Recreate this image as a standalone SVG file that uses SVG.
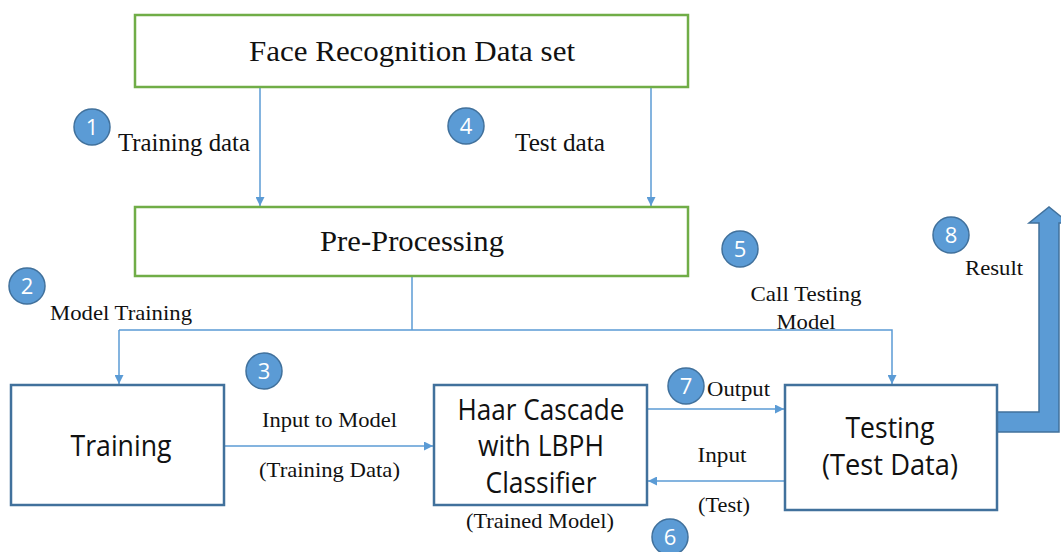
<svg xmlns="http://www.w3.org/2000/svg" width="1061" height="552" viewBox="0 0 1061 552">
  <defs>
    <marker id="arr" viewBox="0 0 10 10" refX="10" refY="5" markerWidth="9" markerHeight="9" markerUnits="userSpaceOnUse" orient="auto">
      <path d="M0,0 L10,5 L0,10 z" fill="#5b9bd5"/>
    </marker>
    <style>
      .green { fill: #fff; stroke: #70ad47; stroke-width: 2.5; }
      .blue { fill: #fff; stroke: #41719c; stroke-width: 2.5; }
      .conn { fill: none; stroke: #5b9bd5; stroke-width: 1.5; }
      .serif { font-family: "Liberation Serif", "Times New Roman", serif; fill: #111; }
      .sans { font-family: "Open Sans", "Liberation Sans", sans-serif; font-size: 29px; fill: #111; text-anchor: middle; }
      .lbl { font-size: 21px; }
      .badge circle { fill: #5b9bd5; stroke: #41719c; stroke-width: 1.5; }
      .badge text { font-family: "Open Sans", "Liberation Sans", sans-serif; font-size: 22px; fill: #fff; text-anchor: middle; }
    </style>
  </defs>

  <rect width="1061" height="552" fill="#fff"/>

  <!-- connectors -->
  <g id="connectors">
    <line class="conn" x1="260" y1="87" x2="260" y2="206" marker-end="url(#arr)"/>
    <line class="conn" x1="651" y1="87" x2="651" y2="206" marker-end="url(#arr)"/>
    <polyline class="conn" points="412,276 412,330"/>
    <polyline class="conn" points="119,330 892,330 892,384" marker-end="url(#arr)"/>
    <line class="conn" x1="119" y1="330" x2="119" y2="384" marker-end="url(#arr)"/>
    <line class="conn" x1="224" y1="446" x2="433" y2="446" marker-end="url(#arr)"/>
    <line class="conn" x1="647" y1="409" x2="784" y2="409" marker-end="url(#arr)"/>
    <line class="conn" x1="785" y1="481" x2="648" y2="481" marker-end="url(#arr)"/>
    <!-- result arrow -->
    <path d="M997,412 L1039,412 L1039,223 L1029,223 L1049,207 L1069,223 L1059,223 L1059,432 L997,432 z" fill="#5b9bd5" stroke="#41719c" stroke-width="1.5"/>
  </g>

  <g id="dataset">
    <rect class="green" x="135" y="15" width="553" height="72"/>
    <text class="serif" x="412" y="61" font-size="30" text-anchor="middle" textLength="326" lengthAdjust="spacingAndGlyphs">Face Recognition Data set</text>
  </g>

  <g id="preprocessing">
    <rect class="green" x="135" y="207" width="553" height="69"/>
    <text class="serif" x="412" y="251" font-size="30" text-anchor="middle" textLength="184" lengthAdjust="spacingAndGlyphs">Pre-Processing</text>
  </g>

  <g id="training">
    <rect class="blue" x="11" y="385" width="213" height="120"/>
    <text class="sans" x="121" y="456" textLength="101" lengthAdjust="spacingAndGlyphs">Training</text>
  </g>

  <g id="classifier">
    <rect class="blue" x="434" y="385" width="213" height="120"/>
    <text class="sans" x="541" y="420" textLength="167" lengthAdjust="spacingAndGlyphs">Haar Cascade</text>
    <text class="sans" x="541" y="456" textLength="126" lengthAdjust="spacingAndGlyphs">with LBPH</text>
    <text class="sans" x="541" y="493" textLength="111" lengthAdjust="spacingAndGlyphs">Classifier</text>
    <text class="serif lbl" x="540" y="528" text-anchor="middle" textLength="148" lengthAdjust="spacingAndGlyphs">(Trained Model)</text>
  </g>

  <g id="testing">
    <rect class="blue" x="785" y="385" width="212" height="125"/>
    <text class="sans" x="890" y="438" textLength="89" lengthAdjust="spacingAndGlyphs">Testing</text>
    <text class="sans" x="890" y="475" textLength="136" lengthAdjust="spacingAndGlyphs">(Test Data)</text>
  </g>

  <!-- labels -->
  <g id="labels" class="serif">
    <text x="118" y="151" font-size="25" textLength="132" lengthAdjust="spacingAndGlyphs">Training data</text>
    <text x="515" y="151" font-size="25" textLength="90" lengthAdjust="spacingAndGlyphs">Test data</text>
    <text class="lbl" x="50" y="320" textLength="142" lengthAdjust="spacingAndGlyphs">Model Training</text>
    <text class="lbl" x="806" y="301" text-anchor="middle" textLength="111" lengthAdjust="spacingAndGlyphs">Call Testing</text>
    <text class="lbl" x="806" y="329" text-anchor="middle" textLength="59" lengthAdjust="spacingAndGlyphs">Model</text>
    <text class="lbl" x="965" y="275" textLength="58" lengthAdjust="spacingAndGlyphs">Result</text>
    <text class="lbl" x="329.5" y="427" text-anchor="middle" textLength="135" lengthAdjust="spacingAndGlyphs">Input to Model</text>
    <text class="lbl" x="329.5" y="477" text-anchor="middle" textLength="141" lengthAdjust="spacingAndGlyphs">(Training Data)</text>
    <text class="lbl" x="707" y="396" textLength="63" lengthAdjust="spacingAndGlyphs">Output</text>
    <text class="lbl" x="722" y="462" text-anchor="middle" textLength="49" lengthAdjust="spacingAndGlyphs">Input</text>
    <text class="lbl" x="724" y="512" text-anchor="middle" textLength="52" lengthAdjust="spacingAndGlyphs">(Test)</text>
  </g>

  <!-- step badges -->
  <g id="badge1" class="badge"><circle cx="92" cy="127" r="18"/><text x="92" y="135">1</text></g>
  <g id="badge2" class="badge"><circle cx="27" cy="286" r="18"/><text x="27" y="294">2</text></g>
  <g id="badge3" class="badge"><circle cx="264" cy="371" r="18"/><text x="264" y="379">3</text></g>
  <g id="badge4" class="badge"><circle cx="466" cy="126" r="18"/><text x="466" y="134">4</text></g>
  <g id="badge5" class="badge"><circle cx="740" cy="249" r="18"/><text x="740" y="257">5</text></g>
  <g id="badge6" class="badge"><circle cx="670" cy="537" r="18"/><text x="670" y="545">6</text></g>
  <g id="badge7" class="badge"><circle cx="686" cy="386" r="18"/><text x="686" y="394">7</text></g>
  <g id="badge8" class="badge"><circle cx="951" cy="235" r="18"/><text x="951" y="243">8</text></g>
</svg>
